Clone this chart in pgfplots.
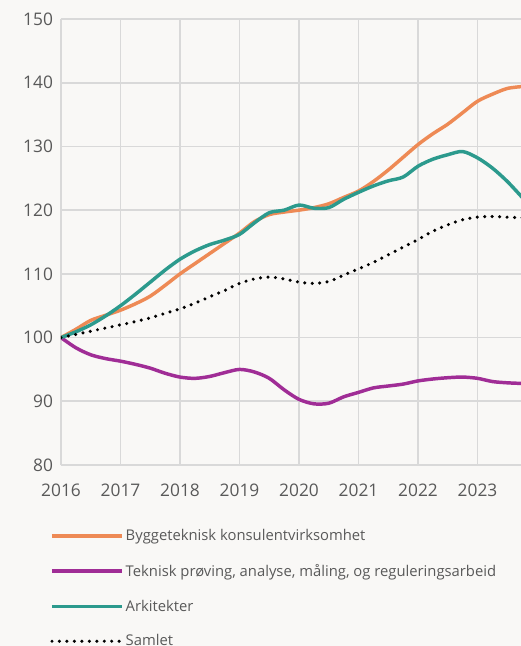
\documentclass[border=0pt]{standalone}
\usepackage{pgfplots}
\pgfplotsset{compat=1.18}
\usepackage{fontspec}
\setmainfont{Open Sans}
\definecolor{bg}{HTML}{F9F8F6}
\definecolor{gridc}{HTML}{D9D9D9}
\definecolor{txt}{HTML}{595959}
\definecolor{corange}{HTML}{EE8A55}
\definecolor{cpurple}{HTML}{A02D96}
\definecolor{cteal}{HTML}{2C9A8D}
\begin{document}
\begin{tikzpicture}
\fill[bg] (-45.75pt,-135.75pt) rectangle (345pt,348.75pt);
\path[use as bounding box] (-45.75pt,-135.75pt) rectangle (345pt,348.75pt);
\begin{axis}[
  at={(0,0)}, anchor=south west,
  scale only axis, width=345pt, height=334.5pt,
  xmin=2016, xmax=2023.73, ymin=80, ymax=150,
  xtick={2016,...,2023}, ytick={80,90,...,150},
  grid=major, major grid style={draw=gridc, line width=1.2pt},
  axis line style={draw=none},
  tick style={draw=none},
  /pgf/number format/assume math mode=true,
  /pgf/number format/1000 sep={},
  tick label style={font=\fontsize{13}{15}\selectfont, text=txt},
  xticklabel style={yshift=-10.5pt},
  yticklabel style={xshift=-2.5pt},
  clip=true,
  legend cell align=left,
  legend style={at={(axis description cs:0,0)}, anchor=north west,
    xshift=-8.25pt, yshift=-46.5pt, draw=none, fill=none,
    font=\fontsize{11.1}{13}\selectfont, text=txt,
    row sep=13.2pt, inner sep=0pt,
    nodes={inner sep=1.5pt}},
  legend image code/.code={\draw[#1] (0pt,0pt) -- (52.5pt,0pt);},
  every axis plot/.append style={smooth, tension=0.5, line width=2.6pt, line join=round},
]
\addplot[corange] coordinates {
(2016.00,100) (2016.25,101.3) (2016.50,102.7) (2016.75,103.5) (2017.00,104.3)
(2017.25,105.3) (2017.50,106.5) (2017.75,108.2) (2018.00,110.0) (2018.25,111.6)
(2018.50,113.2) (2018.75,114.8) (2019.00,116.4) (2019.25,118.2) (2019.50,119.3)
(2019.75,119.7) (2020.00,120.0) (2020.25,120.4) (2020.50,121.0) (2020.75,122.0)
(2021.00,123.0) (2021.25,124.5) (2021.50,126.3) (2021.75,128.3) (2022.00,130.3)
(2022.25,132.0) (2022.50,133.5) (2022.75,135.3) (2023.00,137.1) (2023.25,138.2)
(2023.50,139.1) (2023.75,139.4)};
\addlegendentry{Byggeteknisk konsulentvirksomhet}
\addplot[cpurple] coordinates {
(2016.00,100) (2016.25,98.4) (2016.50,97.3) (2016.75,96.7) (2017.00,96.3)
(2017.25,95.8) (2017.50,95.2) (2017.75,94.4) (2018.00,93.8) (2018.25,93.6)
(2018.50,93.9) (2018.75,94.5) (2019.00,95.0) (2019.25,94.6) (2019.50,93.6)
(2019.75,91.8) (2020.00,90.3) (2020.25,89.6) (2020.50,89.7) (2020.75,90.7)
(2021.00,91.4) (2021.25,92.1) (2021.50,92.4) (2021.75,92.7) (2022.00,93.2)
(2022.25,93.5) (2022.50,93.7) (2022.75,93.8) (2023.00,93.6) (2023.25,93.1)
(2023.50,92.9) (2023.75,92.8)};
\addlegendentry{Teknisk prøving, analyse, måling, og reguleringsarbeid}
\addplot[cteal] coordinates {
(2016.00,100) (2016.25,100.9) (2016.50,102.0) (2016.75,103.4) (2017.00,105.0)
(2017.25,106.8) (2017.50,108.7) (2017.75,110.6) (2018.00,112.3) (2018.25,113.6)
(2018.50,114.6) (2018.75,115.3) (2019.00,116.2) (2019.25,118.0) (2019.50,119.6)
(2019.75,120.0) (2020.00,120.8) (2020.25,120.3) (2020.50,120.4) (2020.75,121.7)
(2021.00,122.8) (2021.25,123.8) (2021.50,124.6) (2021.75,125.2) (2022.00,126.9)
(2022.25,128.0) (2022.50,128.7) (2022.75,129.2) (2023.00,128.2) (2023.25,126.6)
(2023.50,124.5) (2023.75,122.0)};
\addlegendentry{Arkitekter}
\addplot[black, line width=2.6pt, line cap=round, dash pattern=on 0pt off 5.6pt] coordinates {
(2016.00,100) (2016.25,100.5) (2016.50,101.0) (2016.75,101.5) (2017.00,102.0)
(2017.25,102.5) (2017.50,103.1) (2017.75,103.8) (2018.00,104.5) (2018.25,105.4)
(2018.50,106.4) (2018.75,107.4) (2019.00,108.5) (2019.25,109.2) (2019.50,109.5)
(2019.75,109.2) (2020.00,108.7) (2020.25,108.5) (2020.50,108.8) (2020.75,109.8)
(2021.00,110.8) (2021.25,111.8) (2021.50,113.0) (2021.75,114.2) (2022.00,115.4)
(2022.25,116.7) (2022.50,117.7) (2022.75,118.5) (2023.00,118.9) (2023.25,119.0)
(2023.50,118.9) (2023.75,118.8)};
\addlegendentry{Samlet}
\end{axis}
\end{tikzpicture}
\end{document}
